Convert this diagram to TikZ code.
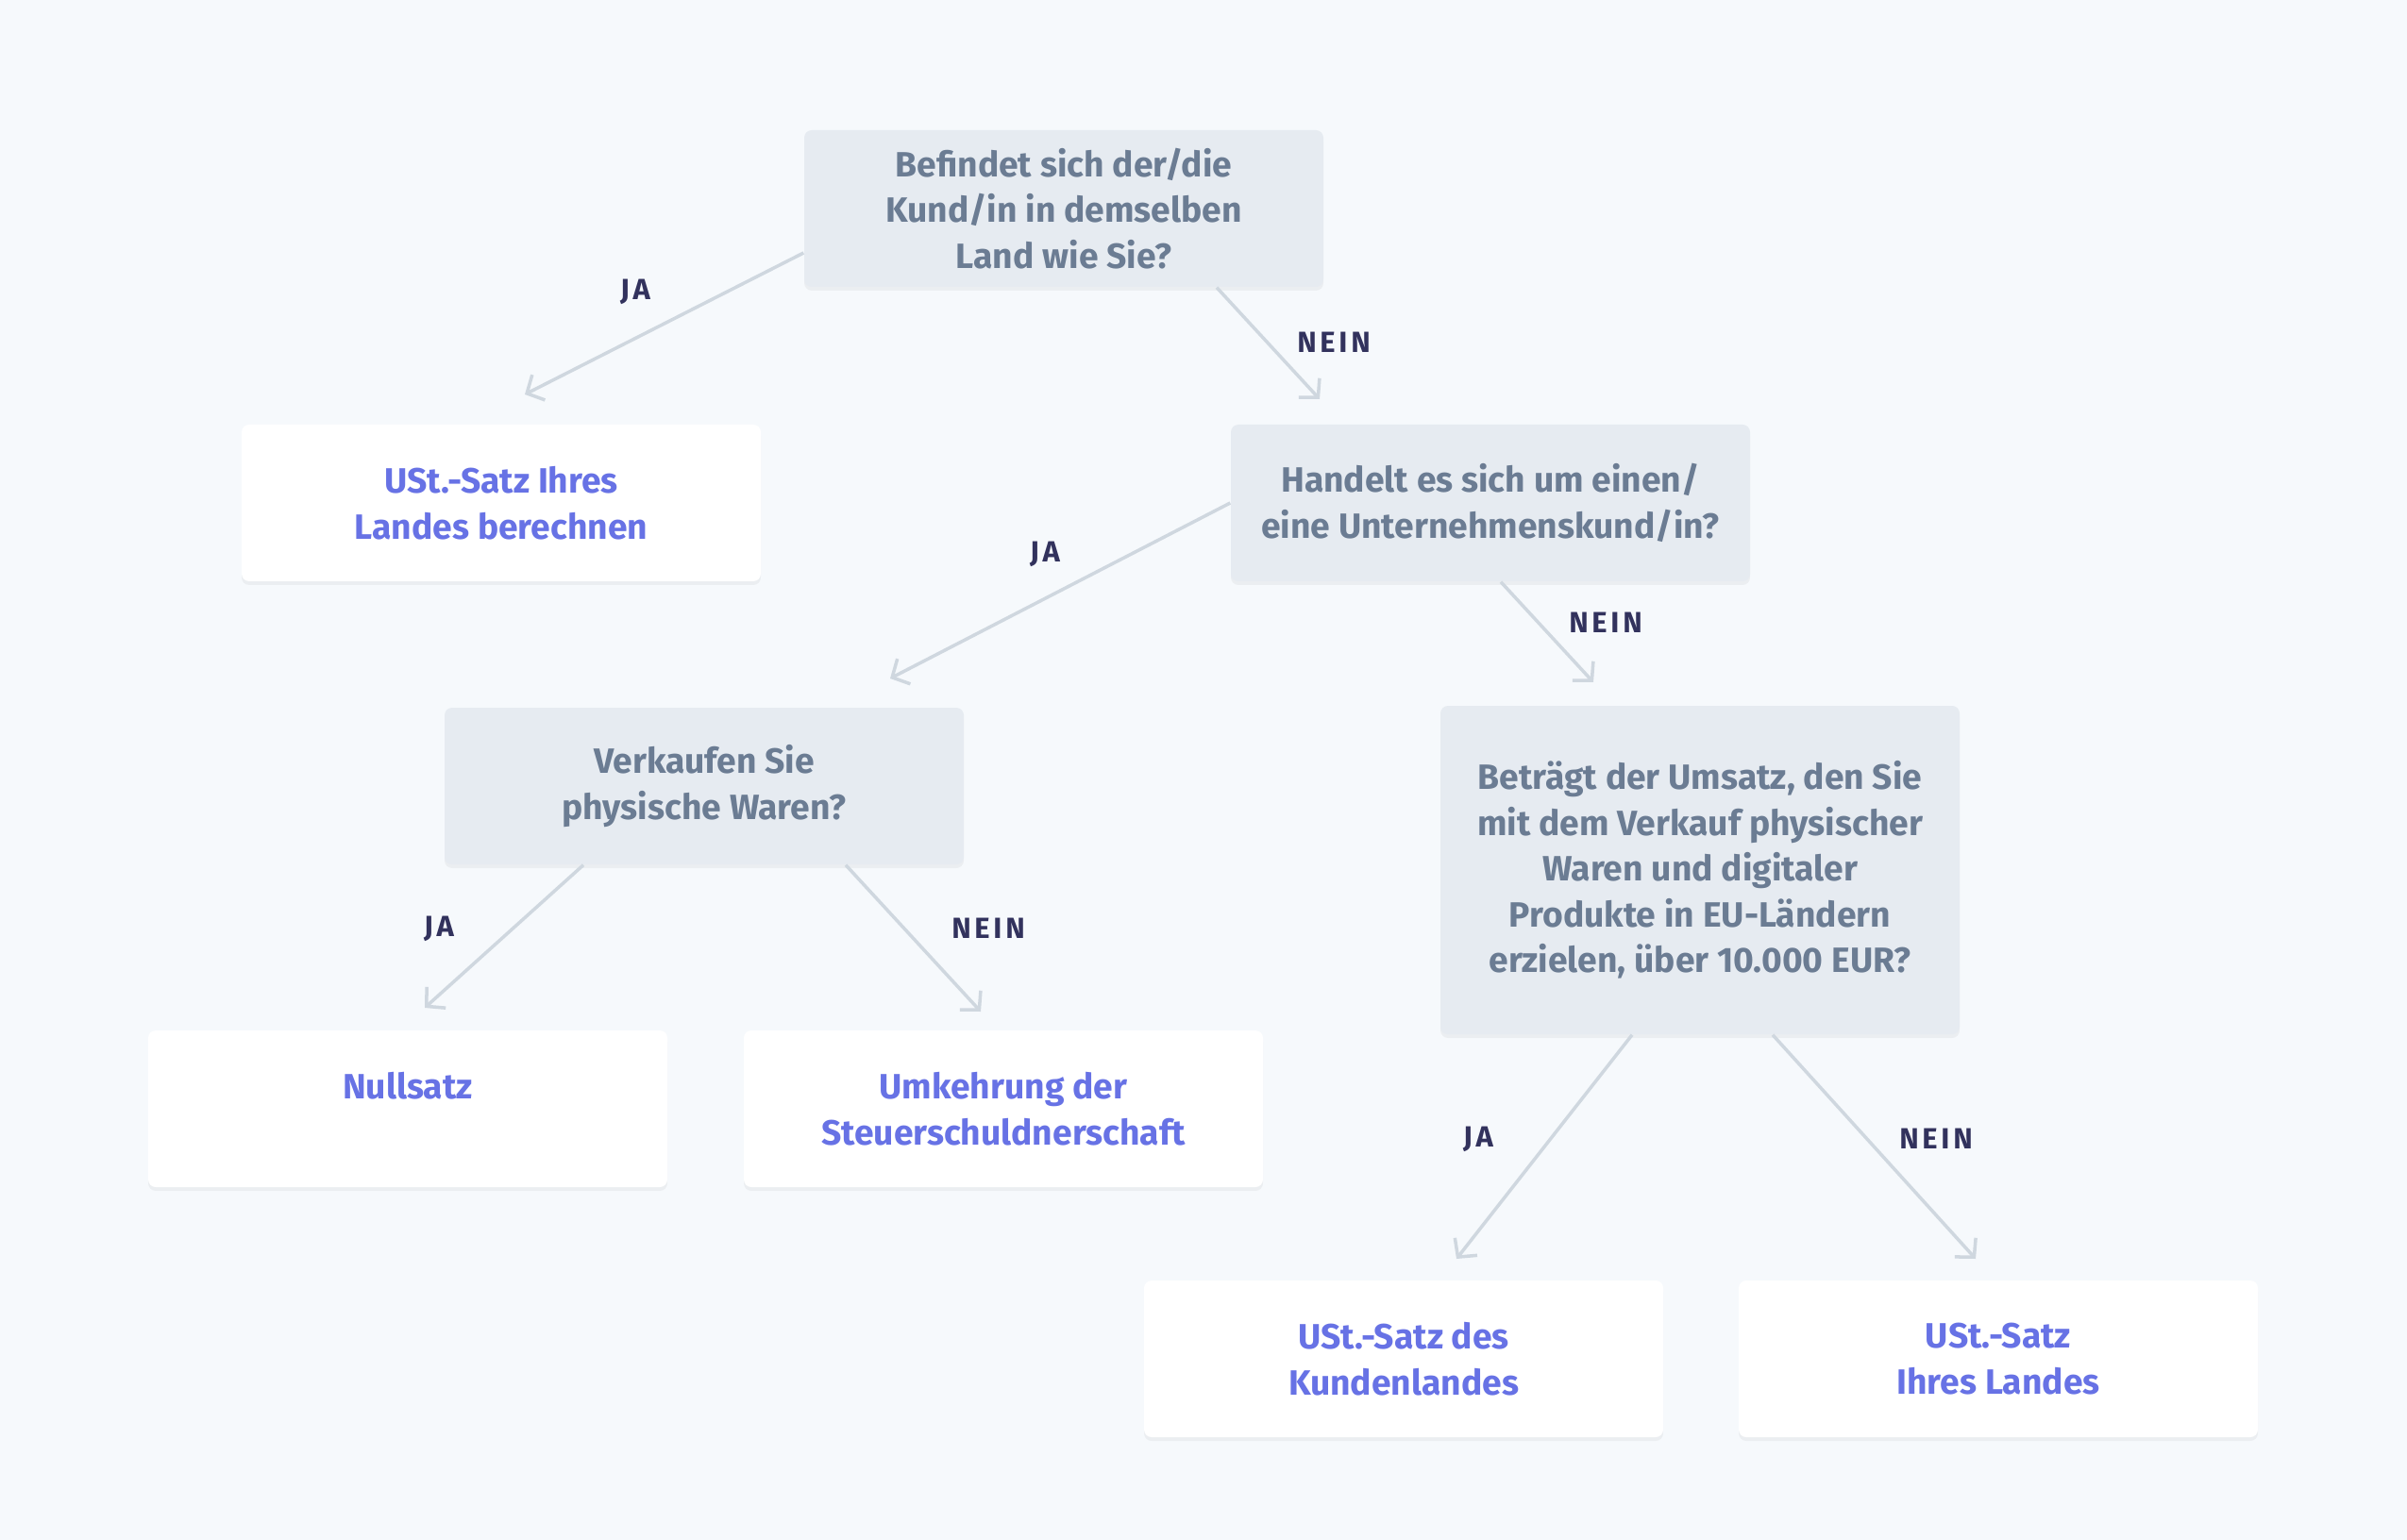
\documentclass[tikz,border=0pt]{standalone}
\usepackage{fontspec}
\setmainfont{Fira Sans}
\usetikzlibrary{arrows.meta,shadows}

\definecolor{bgcol}{HTML}{F6F9FC}
\definecolor{qfill}{HTML}{E6EBF1}
\definecolor{qtext}{HTML}{6B7C93}
\definecolor{atext}{HTML}{6772E5}
\definecolor{ltext}{HTML}{32325D}
\definecolor{arrowcol}{HTML}{CFD7DF}

\tikzset{
  box/.style={rectangle, rounded corners=0.08cm, minimum width=5.5cm, minimum height=1.66cm,
    align=center, inner sep=0pt, font=\fontsize{10.6}{13.8}\selectfont\bfseries,
    drop shadow={shadow xshift=0cm, shadow yshift=-0.04cm, opacity=0.045, fill=black}},
  question/.style={box, fill=qfill, text=qtext},
  answer/.style={box, fill=white, text=atext},
  choice/.style={text=ltext, font=\fontsize{8.8}{10}\selectfont\bfseries\addfontfeatures{LetterSpace=12}},
  flow/.style={draw=arrowcol, line width=1pt, -{Straight Barb[length=0.14cm, width=0.3cm]}},
}

\begin{document}
\begin{tikzpicture}

    \useasboundingbox[fill=bgcol] (0,0) rectangle (25.5,-16.32);

    % Questions %
    \node[question] (q1) at (11.27,-2.21) {Befindet sich der/die\\Kund/in in demselben\\Land wie Sie?};
    \node[question] (q2) at (15.79,-5.33) {Handelt es sich um einen/\\eine Unternehmenskund/in?};
    \node[question] (q3) at (7.46,-8.33) {Verkaufen Sie\\physische Waren?};
    \node[question, minimum height=3.48cm] (q4) at (18.01,-9.22) {Beträgt der Umsatz, den Sie\\mit dem Verkauf physischer\\Waren und digitaler\\Produkte in EU-Ländern\\erzielen, über 10.000 EUR?};

    % Answers %
    \node[answer] (a1) at (5.31,-5.33) {USt.-Satz Ihres\\Landes berechnen};
    \node[answer] (a2) at (4.32,-11.75) {Nullsatz\\\mbox{}};
    \node[answer] (a3) at (10.63,-11.75) {Umkehrung der\\Steuerschuldnerschaft};
    \node[answer] (a4) at (14.87,-14.40) {USt.-Satz des\\Kundenlandes};
    \node[answer] (a5) at (21.17,-14.40) {USt.-Satz\\Ihres Landes};

    % Arrow ends %
    \coordinate (e1) at (5.56,-4.18);
    \coordinate (e2) at (13.98,-4.23);
    \coordinate (e3) at (9.43,-7.19);
    \coordinate (e4) at (16.88,-7.23);
    \coordinate (e5) at (4.50,-10.68);
    \coordinate (e6) at (10.39,-10.72);
    \coordinate (e7) at (15.43,-13.34);
    \coordinate (e8) at (20.93,-13.34);

    \draw[flow] ([yshift=-0.47cm]q1.west) -- (e1);
    \draw[flow] ([xshift=1.62cm]q1.south) -- (e2);
    \draw[flow] (q2.west) -- (e3);
    \draw[flow] ([xshift=0.11cm]q2.south) -- (e4);
    \draw[flow] ([xshift=-1.28cm]q3.south) -- (e5);
    \draw[flow] ([xshift=1.50cm]q3.south) -- (e6);
    \draw[flow] ([xshift=-0.72cm]q4.south) -- (e7);
    \draw[flow] ([xshift=0.77cm]q4.south) -- (e8);

    % JA / NEIN %
    \node[choice] (l1) at (6.73,-3.09) {JA};
    \node[choice] (l2) at (14.13,-3.63) {NEIN};
    \node[choice] (l3) at (11.07,-5.87) {JA};
    \node[choice] (l4) at (17.01,-6.60) {NEIN};
    \node[choice] (l5) at (4.65,-9.84) {JA};
    \node[choice] (l6) at (10.47,-9.84) {NEIN};
    \node[choice] (l7) at (15.66,-12.07) {JA};
    \node[choice] (l8) at (20.51,-12.07) {NEIN};

\end{tikzpicture}
\end{document}
